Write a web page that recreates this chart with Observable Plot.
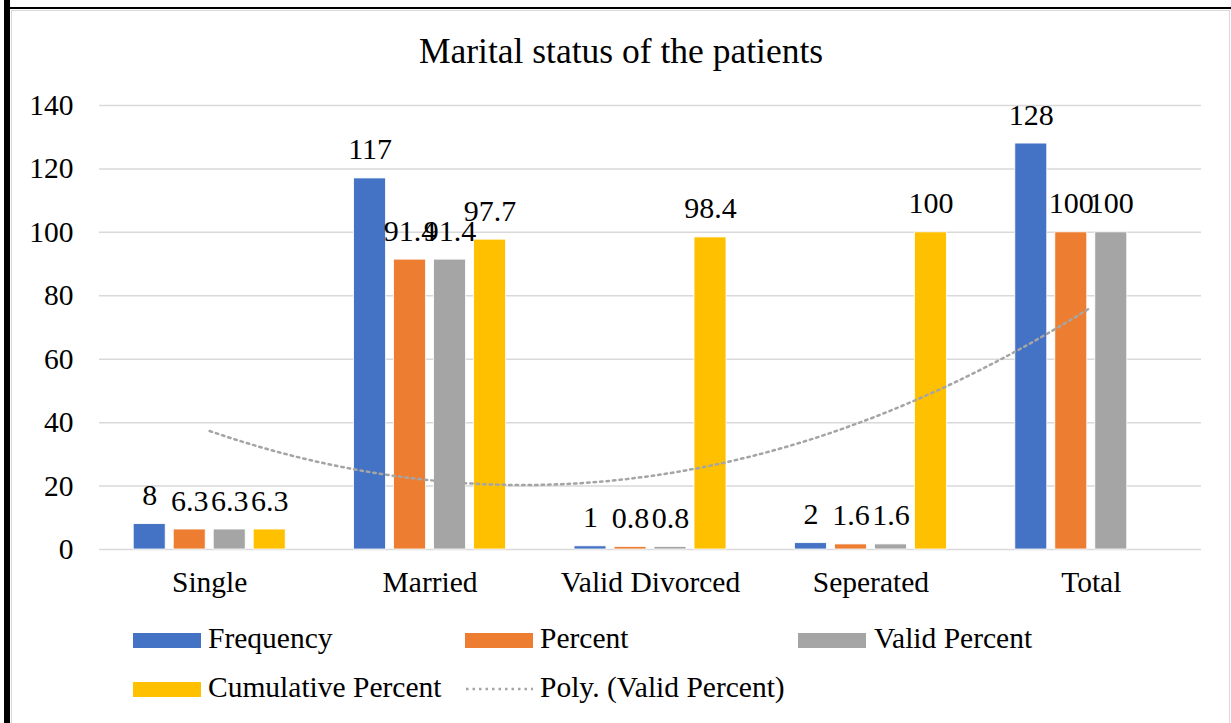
<!DOCTYPE html>
<html>
<head>
<meta charset="utf-8">
<script src="https://cdn.jsdelivr.net/npm/d3@7"></script>
<script src="https://cdn.jsdelivr.net/npm/@observablehq/plot@0.6"></script>
<style>
  html, body { margin: 0; padding: 0; background: #fff; }
  #wrap { position: relative; width: 1231px; height: 723px; overflow: hidden; background: #fff;
          font-family: "Liberation Serif", "Times New Roman", serif; color: #000; }
  .abs { position: absolute; }
  #chart { position: absolute; left: 0; top: 0; }
  .lg-text { position: absolute; font-size: 29.5px; line-height: 1; white-space: nowrap; }
  #title { position: absolute; left: 0; width: 1242px; text-align: center; top: 34px; font-size: 35.5px; line-height: 1; }
</style>
</head>
<body>
<div id="wrap">
  <div class="abs" style="left:4px;top:0;width:6px;height:723px;background:#000"></div>
  <div class="abs" style="left:4px;top:7px;width:1227px;height:2px;background:#000"></div>
  <div class="abs" style="left:11px;top:10px;width:1217px;height:720px;border:1px solid #d9d9d9"></div>
  <div id="title">Marital status of the patients</div>
  <div id="chart"></div>
  <div id="legend"></div>
</div>
<script>
const categories = ["Single", "Married", "Valid Divorced", "Seperated", "Total"];
const seriesNames = ["Frequency", "Percent", "Valid Percent", "Cumulative Percent"];
const frequency = [8, 117, 1, 2, 128];
const percent = [6.3, 91.4, 0.8, 1.6, 100];
const validPercent = [6.3, 91.4, 0.8, 1.6, 100];
const cumulativePercent = [6.3, 97.7, 98.4, 100, null];
const yTicks = [0, 20, 40, 60, 80, 100, 120, 140];
const colors = ["#4472C4", "#ED7D31", "#A5A5A5", "#FFC000"];
const trendName = "Poly. (Valid Percent)";

const seriesValues = [frequency, percent, validPercent, cumulativePercent];
const rows = [];
seriesValues.forEach((vals, s) => {
  vals.forEach((v, i) => {
    if (v !== null && v !== undefined) rows.push({cat: categories[i], idx: i + 1, series: seriesNames[s], s, value: v});
  });
});

// Bar geometry in category units (Excel-like gap width / overlap)
const step = 0.1815, bw = 0.145;
const cx = d => d.idx + (d.s - 1.5) * step;

// Order-2 polynomial trend of Valid Percent (least squares over category index)
function polyFit2(ys) {
  let S = [0,0,0,0,0], T = [0,0,0];
  ys.forEach((y, i) => {
    const x = i + 1;
    for (let k = 0; k < 5; k++) S[k] += Math.pow(x, k);
    for (let k = 0; k < 3; k++) T[k] += y * Math.pow(x, k);
  });
  const A = [[S[0],S[1],S[2],T[0]],[S[1],S[2],S[3],T[1]],[S[2],S[3],S[4],T[2]]];
  for (let c = 0; c < 3; c++) {
    for (let r = c + 1; r < 3; r++) {
      const f = A[r][c] / A[c][c];
      for (let k = c; k < 4; k++) A[r][k] -= f * A[c][k];
    }
  }
  const coef = [0,0,0];
  for (let r = 2; r >= 0; r--) {
    let s = A[r][3];
    for (let k = r + 1; k < 3; k++) s -= A[r][k] * coef[k];
    coef[r] = s / A[r][r];
  }
  return coef;
}
const coef = polyFit2(validPercent);
const trend = d3.range(0, 201).map(j => {
  const x = 1 + j * (validPercent.length - 1) / 200;
  return {x, y: coef[0] + coef[1] * x + coef[2] * x * x};
});

const chart = Plot.plot({
  width: 1231,
  height: 610,
  marginTop: 105,
  marginBottom: 61,
  marginLeft: 99,
  marginRight: 30,
  style: {background: "transparent", fontFamily: "'Liberation Serif', 'Times New Roman', serif", color: "#000"},
  x: {type: "linear", domain: [0.5, 5.5]},
  y: {domain: [0, 140]},
  color: {domain: seriesNames, range: colors},
  marks: [
    Plot.gridY(yTicks, {stroke: "#D9D9D9", strokeOpacity: 1, strokeWidth: 1.5}),
    Plot.axisY(yTicks, {tickSize: 0, tickPadding: 26, fontSize: 29.5, label: null, fill: "#000"}),
    Plot.axisX(categories.map((c, i) => i + 1), {tickSize: 0, tickPadding: 22, fontSize: 29.5, label: null, fill: "#000",
      tickFormat: d => categories[d - 1]}),
    Plot.rectY(rows, {x1: d => cx(d) - bw / 2, x2: d => cx(d) + bw / 2, y1: 0, y2: "value", fill: "series",
      stroke: "white", strokeWidth: 0.8}),
    Plot.line(trend, {x: "x", y: "y", stroke: "#A5A5A5", strokeWidth: 2.5, strokeDasharray: "2.5,4"}),
    Plot.text(rows, {x: cx, y: "value", text: d => String(d.value), fontSize: 30, fill: "#000",
      lineAnchor: "bottom", dy: -19})
  ]
});
document.getElementById("chart").appendChild(chart);

// Legend (HTML)
const legend = document.getElementById("legend");
const items = [
  {name: seriesNames[0], color: colors[0], sx: 133, tx: 208, row: 0},
  {name: seriesNames[1], color: colors[1], sx: 465, tx: 540, row: 0},
  {name: seriesNames[2], color: colors[2], sx: 798, tx: 874, row: 0},
  {name: seriesNames[3], color: colors[3], sx: 133, tx: 208, row: 1},
  {name: trendName, color: null, sx: 465, tx: 540, row: 1}
];
items.forEach(it => {
  const cy = it.row === 0 ? 640 : 689;
  if (it.color) {
    const sw = document.createElement("div");
    sw.className = "abs";
    sw.style.cssText = `left:${it.sx}px;top:${cy - 7.5}px;width:68px;height:15px;background:${it.color}`;
    legend.appendChild(sw);
  } else {
    const ns = "http://www.w3.org/2000/svg";
    const svg = document.createElementNS(ns, "svg");
    svg.setAttribute("width", 70); svg.setAttribute("height", 10);
    svg.style.cssText = `position:absolute;left:${it.sx}px;top:${cy - 5}px`;
    const ln = document.createElementNS(ns, "line");
    ln.setAttribute("x1", 1); ln.setAttribute("x2", 68); ln.setAttribute("y1", 5); ln.setAttribute("y2", 5);
    ln.setAttribute("stroke", "#A5A5A5"); ln.setAttribute("stroke-width", 2.5); ln.setAttribute("stroke-dasharray", "2.5,4");
    svg.appendChild(ln);
    legend.appendChild(svg);
  }
  const t = document.createElement("div");
  t.className = "lg-text";
  t.textContent = it.name;
  t.style.left = it.tx + "px";
  t.style.top = (cy - 16.5) + "px";
  legend.appendChild(t);
});
</script>
</body>
</html>
